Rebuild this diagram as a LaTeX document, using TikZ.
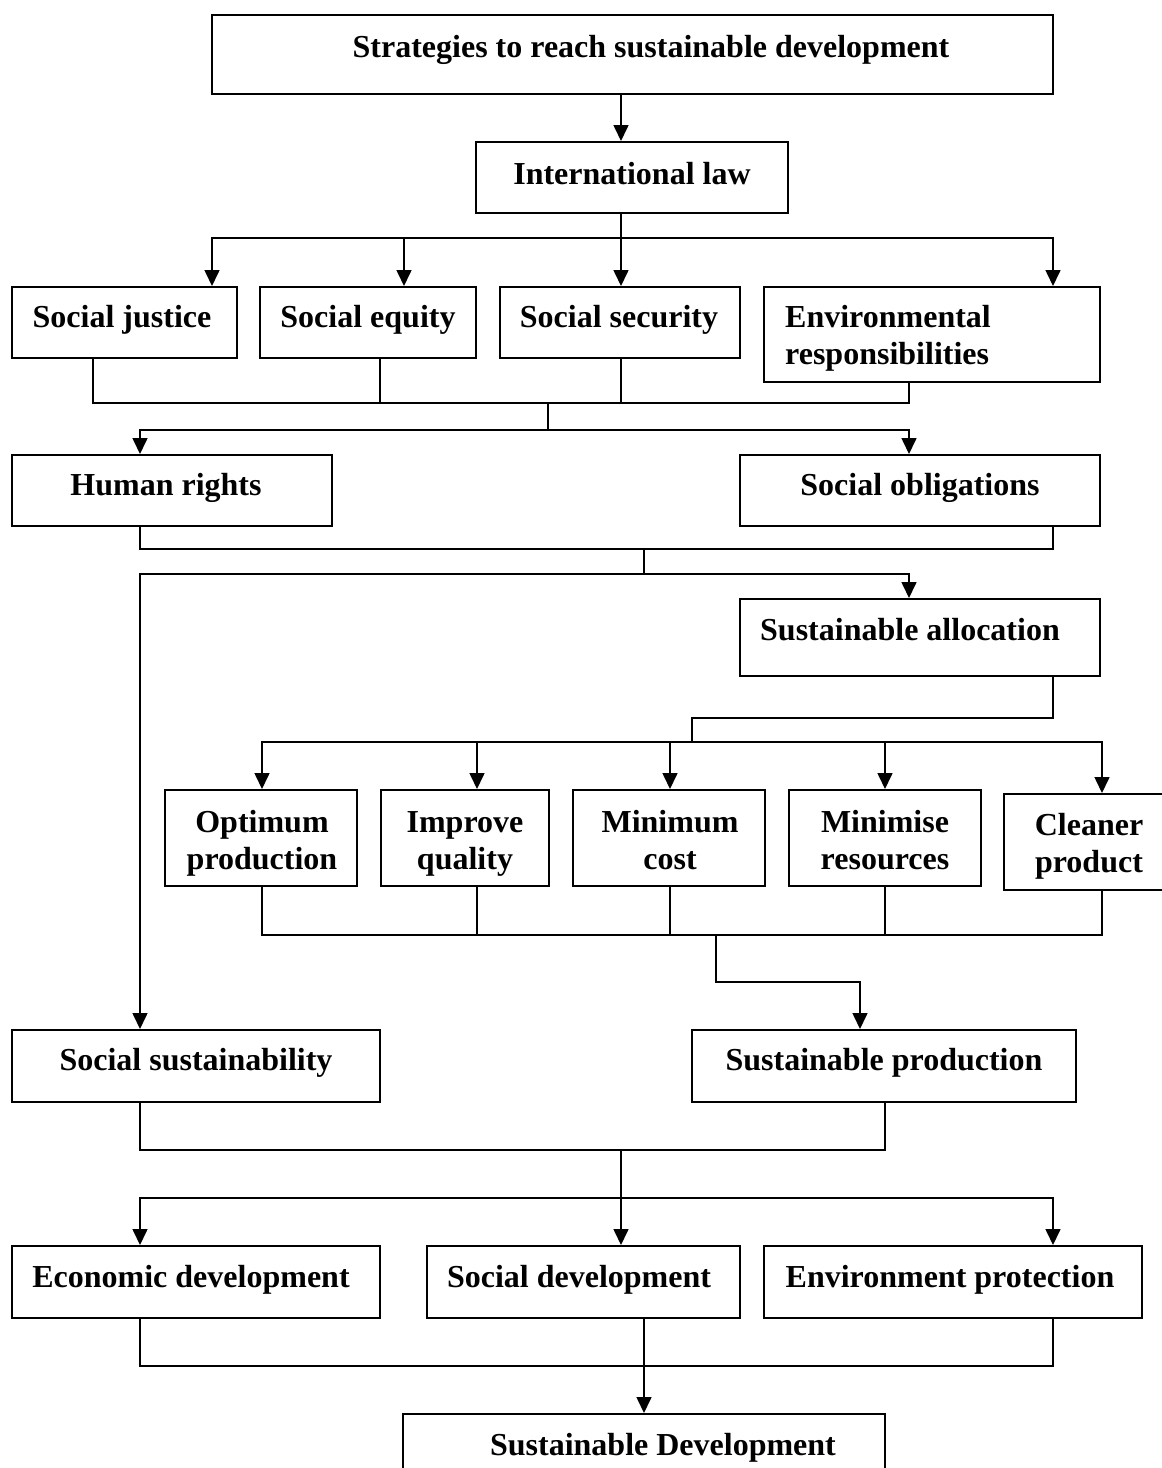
\documentclass[tikz,border=0pt]{standalone}
\usepackage{fontspec}
\setmainfont{Liberation Serif}
\usetikzlibrary{arrows.meta,fit}

\tikzset{
  box/.style={draw, line width=2pt, inner sep=0pt},
  txt/.style={font=\fontsize{32}{37}\selectfont\bfseries, inner sep=0pt, anchor=base, align=center},
  wire/.style={line width=1.6pt},
  arr/.style={wire, -{Triangle[length=16pt,width=15pt]}},
}

\begin{document}
\begin{tikzpicture}[x=1pt,y=-1pt]
  \useasboundingbox[fill=white] (0,0) rectangle (1162,1468);

  % column and junction coordinates
  \foreach \c in {93,140,212,262,380,404,477,621,644,670,692,716,860,885,909,1053,1102}
    \coordinate (x\c) at (\c,0);
  \coordinate (b1) at (621,238);
  \coordinate (m1) at (548,403);
  \coordinate (b2) at (548,430);
  \coordinate (m2) at (644,549);
  \coordinate (b3) at (644,574);
  \coordinate (c1) at (692,718);
  \coordinate (b4) at (692,742);
  \coordinate (m3) at (716,935);
  \coordinate (c2) at (860,982);
  \coordinate (m4) at (621,1150);
  \coordinate (b5) at (621,1198);
  \coordinate (m5) at (644,1366);

  % boxes
  \node[box, fit={(212,15)(1053,94)}] (top) {};
  \node[box, fit={(476,142)(788,213)}] (il) {};
  \node[box, fit={(12,287)(237,358)}] (sj) {};
  \node[box, fit={(260,287)(476,358)}] (se) {};
  \node[box, fit={(500,287)(740,358)}] (ss) {};
  \node[box, fit={(764,287)(1100,382)}] (er) {};
  \node[box, fit={(12,455)(332,526)}] (hr) {};
  \node[box, fit={(740,455)(1100,526)}] (so) {};
  \node[box, fit={(740,599)(1100,676)}] (sa) {};
  \node[box, fit={(165,790)(357,886)}] (op) {};
  \node[box, fit={(381,790)(549,886)}] (iq) {};
  \node[box, fit={(573,790)(765,886)}] (mc) {};
  \node[box, fit={(789,790)(981,886)}] (mr) {};
  \node[box, fit={(1004,794)(1170,890)}] (cp) {};
  \node[box, fit={(12,1030)(380,1102)}] (ssu) {};
  \node[box, fit={(692,1030)(1076,1102)}] (sp) {};
  \node[box, fit={(12,1246)(380,1318)}] (ed) {};
  \node[box, fit={(427,1246)(740,1318)}] (sd) {};
  \node[box, fit={(764,1246)(1142,1318)}] (ep) {};
  \node[box, fit={(403,1414)(885,1480)}] (fin) {};

  % labels (multi-line labels sit on the baseline of their last line)
  \node[txt] (top-t) at (651,57) {Strategies to reach sustainable development};
  \node[txt] (il-t) at (632,184) {International law};
  \node[txt] (sj-t) at (122,327) {Social justice};
  \node[txt] (se-t) at (368,327) {Social equity};
  \node[txt] (ss-t) at (619,327) {Social security};
  \node[txt, anchor=base west, align=left] (er-t) at (785,364) {Environmental\\responsibilities};
  \node[txt] (hr-t) at (166,495) {Human rights};
  \node[txt] (so-t) at (920,495) {Social obligations};
  \node[txt] (sa-t) at (910,640) {Sustainable allocation};
  \node[txt] (op-t) at (262,869) {Optimum\\production};
  \node[txt] (iq-t) at (465,869) {Improve\\quality};
  \node[txt] (mc-t) at (670,869) {Minimum\\cost};
  \node[txt] (mr-t) at (885,869) {Minimise\\resources};
  \node[txt] (cp-t) at (1089,872) {Cleaner\\product};
  \node[txt] (ssu-t) at (196,1070) {Social sustainability};
  \node[txt] (sp-t) at (884,1070) {Sustainable production};
  \node[txt] (ed-t) at (191,1287) {Economic development};
  \node[txt] (sd-t) at (579,1287) {Social development};
  \node[txt] (ep-t) at (950,1287) {Environment protection};
  \node[txt] (fin-t) at (663,1455) {Sustainable Development};

  % strategies -> international law
  \draw[arr] (top.south -| x621) -- (il.north -| x621);

  % international law -> four social pillars
  \draw[wire] (il.south -| b1) -- (b1);
  \draw[arr] (b1) -- (ss.north -| b1);
  \draw[arr] (b1) -| (sj.north -| x212);
  \draw[arr] (b1) -| (se.north -| x404);
  \draw[arr] (b1) -| (er.north -| x1053);

  % pillars -> human rights / social obligations
  \draw[wire] (sj.south -| x93) |- (m1) -| (er.south -| x909);
  \draw[wire] (se.south -| x380) -- (x380 |- m1);
  \draw[wire] (ss.south -| x621) -- (x621 |- m1);
  \draw[wire] (m1) -- (b2);
  \draw[arr] (b2) -| (hr.north -| x140);
  \draw[arr] (b2) -| (so.north -| x909);

  % rights and obligations -> social sustainability / sustainable allocation
  \draw[wire] (hr.south -| x140) |- (m2) -| (so.south -| x1053);
  \draw[wire] (m2) -- (b3);
  \draw[arr] (b3) -| (ssu.north -| x140);
  \draw[arr] (b3) -| (sa.north -| x909);

  % sustainable allocation -> five production goals
  \draw[wire] (sa.south -| x1053) |- (c1) -- (b4);
  \draw[arr] (b4) -| (op.north -| x262);
  \draw[arr] (b4) -| (iq.north -| x477);
  \draw[arr] (b4) -| (mc.north -| x670);
  \draw[arr] (b4) -| (mr.north -| x885);
  \draw[arr] (b4) -| (cp.north -| x1102);

  % production goals -> sustainable production
  \draw[wire] (op.south -| x262) |- (m3) -| (cp.south -| x1102);
  \draw[wire] (iq.south -| x477) -- (x477 |- m3);
  \draw[wire] (mc.south -| x670) -- (x670 |- m3);
  \draw[wire] (mr.south -| x885) -- (x885 |- m3);
  \draw[arr] (m3) |- (c2) -- (sp.north -| c2);

  % social sustainability + sustainable production -> three developments
  \draw[wire] (ssu.south -| x140) |- (m4) -| (sp.south -| x885);
  \draw[wire] (m4) -- (b5);
  \draw[arr] (b5) -- (sd.north -| b5);
  \draw[arr] (b5) -| (ed.north -| x140);
  \draw[arr] (b5) -| (ep.north -| x1053);

  % three developments -> sustainable development
  \draw[wire] (ed.south -| x140) |- (m5) -| (ep.south -| x1053);
  \draw[wire] (sd.south -| m5) -- (m5);
  \draw[arr] (m5) -- (fin.north -| m5);
\end{tikzpicture}
\end{document}
